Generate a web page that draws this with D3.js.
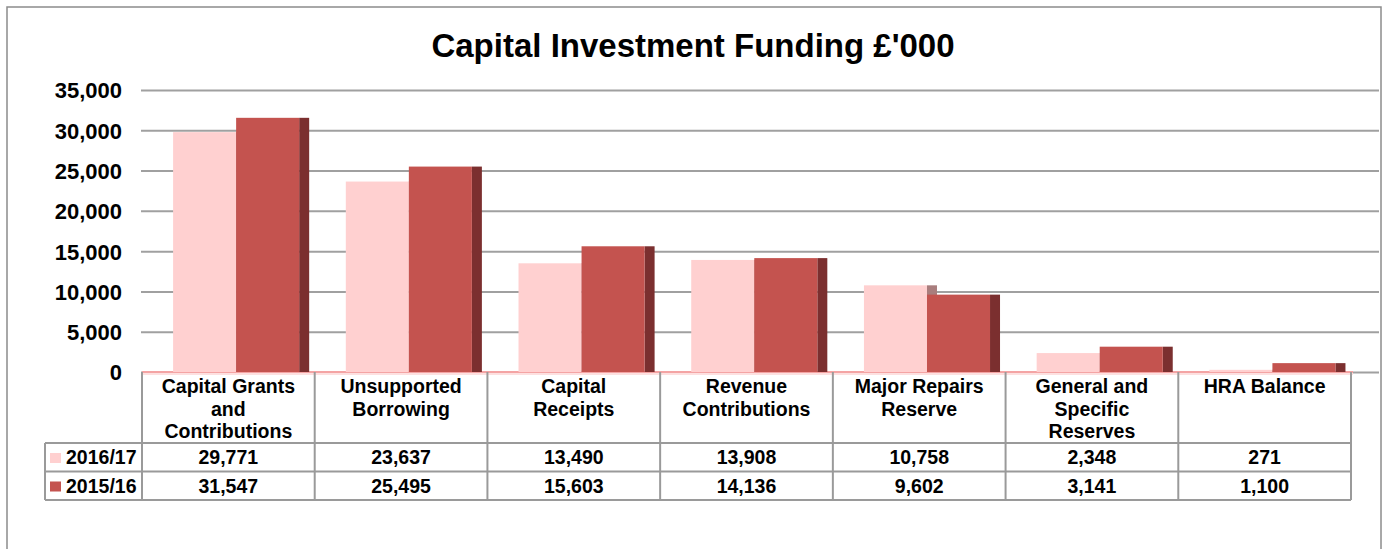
<!DOCTYPE html>
<html>
<head>
<meta charset="utf-8">
<script src="https://cdn.jsdelivr.net/npm/d3@7"></script>
<style>
  body { margin: 0; background: #fff; }
  text { font-family: "Liberation Sans", Arial, sans-serif; font-weight: bold; fill: #000; }
</style>
</head>
<body>
<svg width="1385" height="549"></svg>
<script>
//chart data
var categories = ["Capital Grants and Contributions", "Unsupported Borrowing", "Capital Receipts",
  "Revenue Contributions", "Major Repairs Reserve", "General and Specific Reserves", "HRA Balance"];
var seriesNames = ["2016/17", "2015/16"];
var values2016 = [29771, 23637, 13490, 13908, 10758, 2348, 271];
var values2015 = [31547, 25495, 15603, 14136, 9602, 3141, 1100];
var yTicks = [0, 5000, 10000, 15000, 20000, 25000, 30000, 35000];

var colors = ["#ffd0d0", "#c4534f"];
var sideColors = ["#a97d7d", "#7b2f2f"];

var svg = d3.select("svg");

//outer frame
svg.append("rect")
    .attr("x", 7).attr("y", 7)
    .attr("width", 1374).attr("height", 600)
    .attr("fill", "none").attr("stroke", "#8c8c8c").attr("stroke-width", 1.5);

//title
svg.append("text")
    .attr("x", 693).attr("y", 57)
    .attr("text-anchor", "middle")
    .style("font-size", "33px")
    .text("Capital Investment Funding £'000");

//scales
var x = d3.scaleBand().domain(categories).range([142, 1351]);
var bw = x.bandwidth();
var xs = d3.scaleBand().domain(seriesNames).range([0.18 * bw, 0.18 * bw + 0.73 * bw]);
var y = d3.scaleLinear().domain([0, 35000]).range([372, 90]);

//y axis with gridlines
var yAxis = svg.append("g")
    .attr("transform", "translate(141,0)")
    .call(d3.axisLeft(y).tickValues(yTicks).tickFormat(d3.format(",")).tickSize(-1238).tickPadding(19));
yAxis.select(".domain").remove();
yAxis.selectAll(".tick line").attr("stroke", "#a0a0a0").attr("stroke-width", 2);
yAxis.selectAll(".tick text").style("font-size", "22px").attr("dy", "0.36em");

//floor
svg.append("rect").attr("x", 142).attr("y", 372).attr("width", 1211).attr("height", 3).attr("fill", "#fde0e0");
svg.append("line")
    .attr("x1", 142).attr("x2", 1353).attr("y1", 372).attr("y2", 372)
    .attr("stroke", "#f4a4a4").attr("stroke-width", 2);

//bars, one group per series
var series = [values2016, values2015];
var depth = 10;
series.forEach(function(vals, si) {
  var g = svg.append("g").attr("class", "series" + si);
  var rows = categories.map(function(c, i) { return { cat: c, v: vals[i] }; });
  //side face
  g.selectAll("rect.side").data(rows).enter().append("rect")
      .attr("class", "side")
      .attr("x", function(d) { return x(d.cat) + xs(seriesNames[si]) + xs.bandwidth(); })
      .attr("y", function(d) { return y(d.v); })
      .attr("width", depth)
      .attr("height", function(d) { return y(0) - y(d.v); })
      .attr("fill", sideColors[si]);
  //front face
  g.selectAll("rect.front").data(rows).enter().append("rect")
      .attr("class", "front")
      .attr("x", function(d) { return x(d.cat) + xs(seriesNames[si]); })
      .attr("y", function(d) { return y(d.v); })
      .attr("width", xs.bandwidth())
      .attr("height", function(d) { return y(0) - y(d.v); })
      .attr("fill", colors[si]);
});

//data table
var table = svg.append("g").attr("class", "table");
var lineColor = "#9a9a9a";
var headTop = 372, rowTop = 443, rowH = 28.5, tableLeft = 45, tableRight = 1351;

//horizontal lines
[0, 1, 2].forEach(function(r) {
  table.append("line")
      .attr("x1", tableLeft).attr("x2", tableRight)
      .attr("y1", rowTop + r * rowH).attr("y2", rowTop + r * rowH)
      .attr("stroke", lineColor).attr("stroke-width", 2);
});
//vertical lines
table.append("line")
    .attr("x1", tableLeft).attr("x2", tableLeft)
    .attr("y1", rowTop).attr("y2", rowTop + 2 * rowH)
    .attr("stroke", lineColor).attr("stroke-width", 2);
var edges = categories.map(function(c) { return x(c); }).concat([tableRight]);
table.selectAll("line.v").data(edges).enter().append("line")
    .attr("class", "v")
    .attr("x1", function(d) { return d; }).attr("x2", function(d) { return d; })
    .attr("y1", headTop).attr("y2", rowTop + 2 * rowH)
    .attr("stroke", lineColor).attr("stroke-width", 2);

//category headers, wrapped
var headers = table.selectAll("text.head").data(categories).enter().append("text")
    .attr("class", "head")
    .attr("text-anchor", "middle")
    .style("font-size", "19.5px")
    .attr("x", function(d) { return x(d) + bw / 2; })
    .attr("y", 393);
headers.each(function(d) {
  var el = d3.select(this), words = d.split(" "), line = [], lineNo = 0;
  var tspan = el.append("tspan").attr("x", x(d) + bw / 2).attr("dy", 0);
  words.forEach(function(w) {
    line.push(w);
    tspan.text(line.join(" "));
    if (tspan.node().getComputedTextLength() > 145 && line.length > 1) {
      line.pop();
      tspan.text(line.join(" "));
      line = [w];
      lineNo++;
      tspan = el.append("tspan").attr("x", x(d) + bw / 2).attr("dy", 22.5).text(w);
    }
  });
});

//data rows with legend keys
var fmt = d3.format(",");
series.forEach(function(vals, si) {
  var top = rowTop + si * rowH;
  table.append("rect")
      .attr("x", 50).attr("y", top + 10)
      .attr("width", 11).attr("height", 10)
      .attr("fill", colors[si]);
  table.append("text")
      .attr("x", 66).attr("y", top + 21)
      .style("font-size", "19.5px")
      .text(seriesNames[si]);
  table.selectAll("text.val" + si).data(vals).enter().append("text")
      .attr("class", "val" + si)
      .attr("text-anchor", "middle")
      .style("font-size", "19.5px")
      .attr("x", function(d, i) { return x(categories[i]) + bw / 2; })
      .attr("y", top + 21)
      .text(function(d) { return fmt(d); });
});
</script>
</body>
</html>
